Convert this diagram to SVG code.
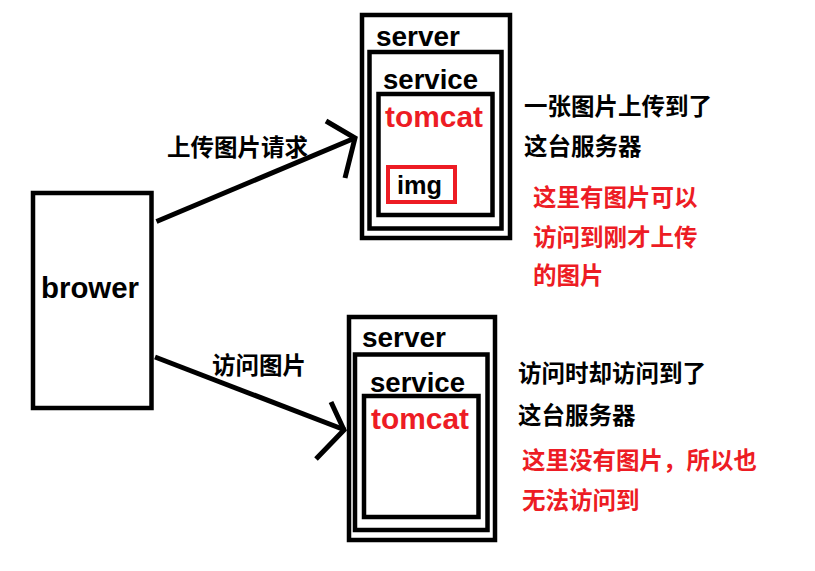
<svg xmlns="http://www.w3.org/2000/svg" width="815" height="571" viewBox="0 0 815 571">
<style>
.box{fill:none;stroke:#000;stroke-width:4.5}
.red{fill:none;stroke:#ed1c24;stroke-width:4}
.en{font-family:"Liberation Sans",Arial,sans-serif;font-weight:bold;font-size:28px;fill:#000}
.enr{font-family:"Liberation Sans",Arial,sans-serif;font-weight:bold;font-size:29px;fill:#ed1c24}
.cn{font-family:"Noto Sans CJK SC","Liberation Sans",sans-serif;font-weight:bold;font-size:23.5px;fill:#000}
.cnr{font-family:"Noto Sans CJK SC","Liberation Sans",sans-serif;font-weight:bold;font-size:23.5px;fill:#ed1c24}
.ln{fill:none;stroke:#000;stroke-width:5;stroke-linecap:butt}
</style>
<rect width="815" height="571" fill="#fff"/>
<g id="browser">
<rect class="box" x="33" y="193" width="118.5" height="215"/>
<text class="en" x="41" y="298" style="font-size:29px" textLength="98" lengthAdjust="spacingAndGlyphs">brower</text>
</g>
<g id="server1">
<rect class="box" x="362" y="15" width="148" height="223"/>
<text class="en" x="376" y="46" textLength="84" lengthAdjust="spacingAndGlyphs">server</text>
<rect class="box" x="369.5" y="52" width="132" height="176.5"/>
<text class="en" x="383" y="89" textLength="95" lengthAdjust="spacingAndGlyphs">service</text>
<rect class="box" x="378.5" y="94" width="114" height="121"/>
<text class="enr" x="385" y="127" textLength="98" lengthAdjust="spacingAndGlyphs">tomcat</text>
<rect class="red" x="388" y="167" width="67" height="35"/>
<text class="en" x="397" y="194" style="font-size:25px" textLength="45" lengthAdjust="spacingAndGlyphs">img</text>
</g>
<g id="server2">
<rect class="box" x="349" y="317" width="146" height="223"/>
<text class="en" x="362" y="347" textLength="84" lengthAdjust="spacingAndGlyphs">server</text>
<rect class="box" x="355" y="354.5" width="132.5" height="175.5"/>
<text class="en" x="370" y="392" textLength="95" lengthAdjust="spacingAndGlyphs">service</text>
<rect class="box" x="364" y="396" width="114.5" height="121"/>
<text class="enr" x="371" y="429" textLength="98" lengthAdjust="spacingAndGlyphs">tomcat</text>
</g>
<g id="connectors">
<polyline class="ln" points="156.5,221.5 355,138"/>
<polyline class="ln" points="326,121 355,138 345,178"/>
<polyline class="ln" points="155,357 345,430"/>
<polyline class="ln" points="331,402 344,430 316,459"/>
<text class="cn" x="167" y="156">上传图片请求</text>
<text class="cn" x="212" y="374">访问图片</text>
</g>
<g id="note1">
<text class="cn" x="524" y="115">一张图片上传到了</text>
<text class="cn" x="524" y="155">这台服务器</text>
<text class="cnr" x="533" y="206">这里有图片可以</text>
<text class="cnr" x="533" y="246">访问到刚才上传</text>
<text class="cnr" x="533" y="284">的图片</text>
</g>
<g id="note2">
<text class="cn" x="518" y="382">访问时却访问到了</text>
<text class="cn" x="518" y="424">这台服务器</text>
<text class="cnr" x="522" y="469">这里没有图片，所以也</text>
<text class="cnr" x="522" y="509">无法访问到</text>
</g>
</svg>
